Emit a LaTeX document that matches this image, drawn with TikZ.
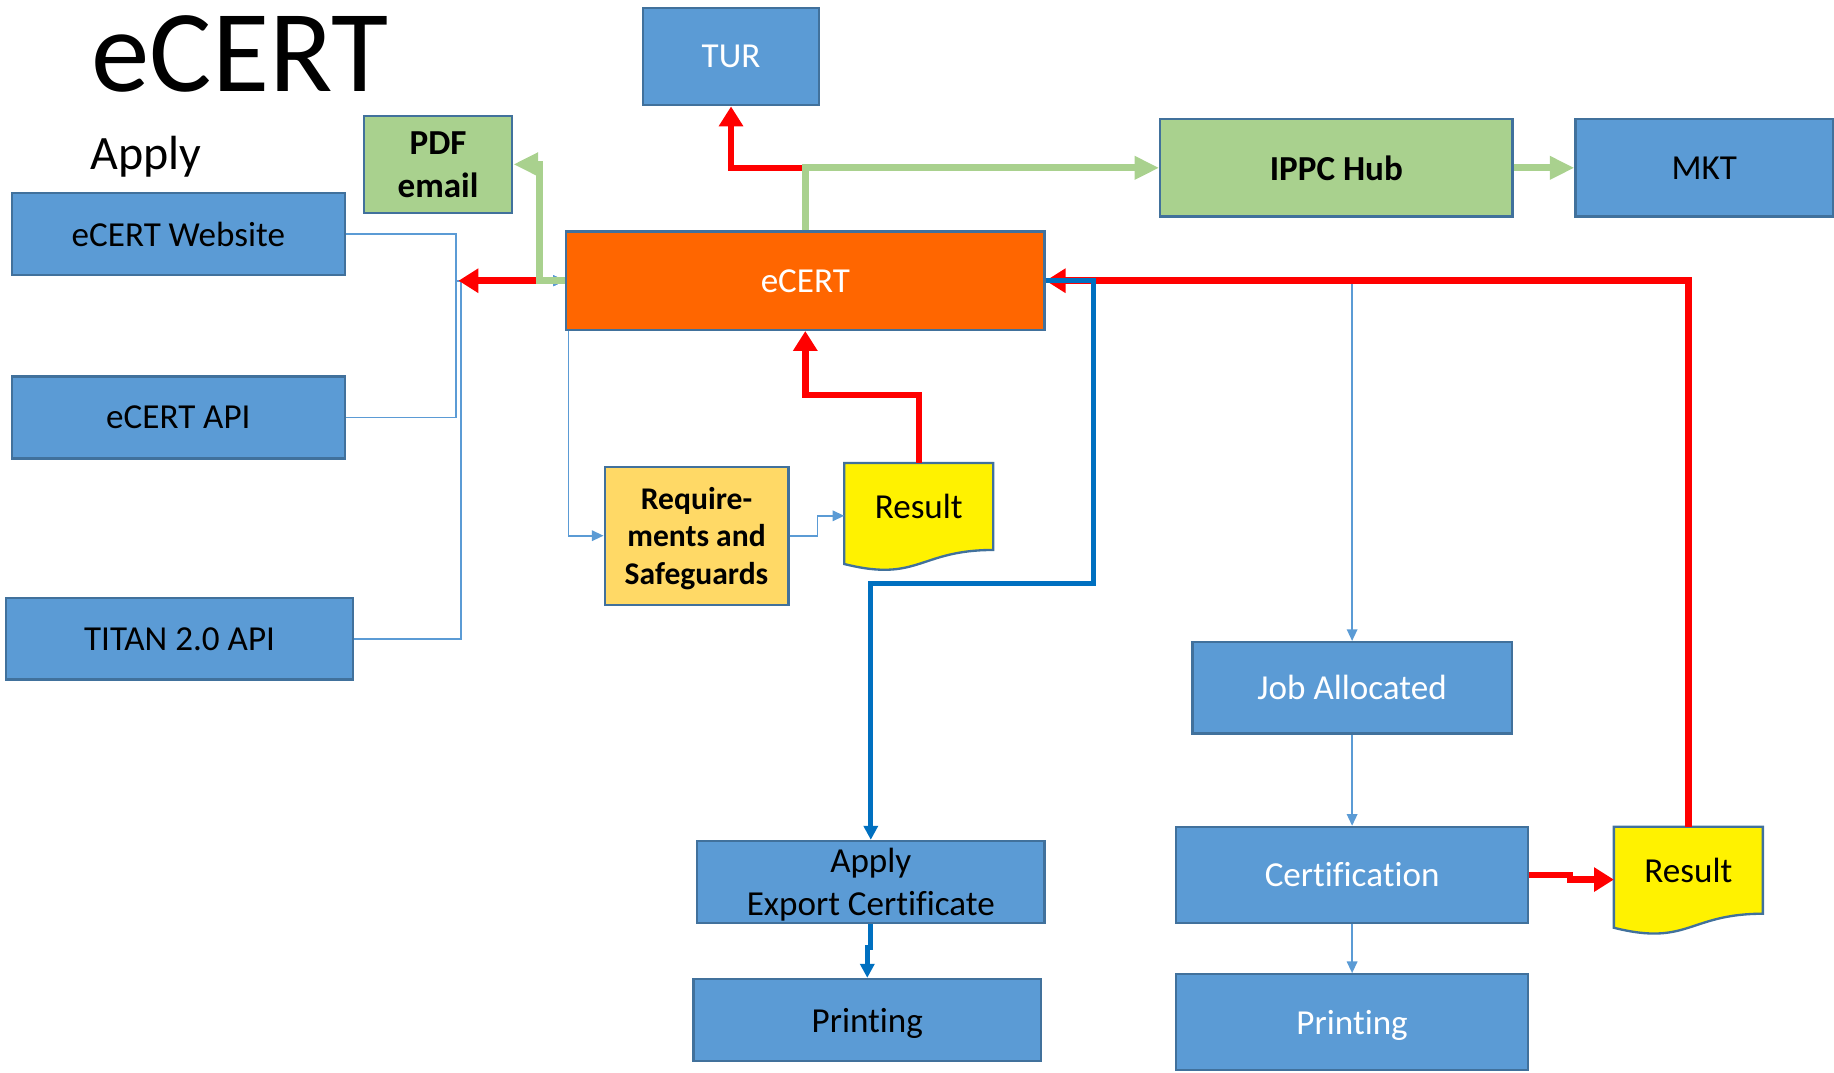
\documentclass[tikz,border=0pt]{standalone}
\usepackage{fontspec}
\setmainfont[Ligatures=NoCommon]{Carlito}
\usepackage{tikz}
\usetikzlibrary{arrows.meta,backgrounds}
\definecolor{boxblue}{HTML}{5B9BD5}
\definecolor{edgeblue}{HTML}{41719C}
\definecolor{hubgreen}{HTML}{A9D18E}
\definecolor{ecertorange}{HTML}{FF6600}
\definecolor{reqyellow}{HTML}{FFD966}
\definecolor{linkblue}{HTML}{0070C0}

\begin{document}
\begin{tikzpicture}[x=1pt,y=-1pt,
    box/.style={draw=edgeblue,line width=2pt,fill=boxblue,inner sep=0pt,align=center,text depth=0pt,
        font=\fontsize{30}{36.6}\selectfont},
    greenbox/.style={box,fill=hubgreen,font=\fontsize{30}{36.6}\selectfont\bfseries},
    docnode/.style={inner sep=0pt,minimum width=127pt,minimum height=74pt,
        font=\fontsize{30}{36.6}\selectfont},
    flow/.style={draw=boxblue,line width=1.5pt,-{Triangle[length=10pt,width=9pt]}},
    redflow/.style={draw=red,line width=5.5pt,-{Triangle[length=17pt,width=20pt]}},
    greenflow/.style={draw=hubgreen,line width=6pt,-{Triangle[length=21pt,width=19pt]}},
    blueflow/.style={draw=linkblue,line width=4pt,-{Triangle[length=12pt,width=12pt]}}]
    \useasboundingbox (0,0) rectangle (1568,917);
    \node[anchor=base west,inner sep=0pt,font=\fontsize{100}{120}\selectfont] (title) at (78,78) {eCERT};
    \node[anchor=base west,inner sep=0pt,font=\fontsize{41}{50}\selectfont] (apply_label) at (77,145) {Apply};
    \node[box,minimum width=285pt,minimum height=70pt] (web)   at (152.5,200) {eCERT Website};
    \node[box,minimum width=285pt,minimum height=70pt] (api)   at (152.5,357) {eCERT API};
    \node[box,minimum width=297pt,minimum height=70pt] (titan) at (153.5,546) {TITAN 2.0 API};
    \node[greenbox,minimum width=127pt,minimum height=83pt] (pdf) at (374.5,140.5) {PDF\\email};
    \node[box,text=white,minimum width=150pt,minimum height=83pt] (tur) at (625,48.5) {TUR};
    \node[box,fill=ecertorange,text=white,minimum width=409pt,minimum height=84pt] (ecert) at (688.5,240) {eCERT};
    \node[greenbox,minimum width=301pt,minimum height=83pt] (ippc) at (1142.5,143.5) {IPPC Hub};
    \node[box,minimum width=220pt,minimum height=83pt] (mkt) at (1457,143.5) {MKT};
    \node[box,fill=reqyellow,font=\fontsize{27}{32}\selectfont\bfseries,minimum width=157pt,minimum height=118pt]
        (req) at (595.5,458) {Require-\\ments and\\Safeguards};
    \node[docnode] (res_1) at (785.5,433) {Result};
    \node[box,text=white,minimum width=273pt,minimum height=78pt] (job)  at (1156,588) {Job Allocated};
    \node[box,text=white,minimum width=301pt,minimum height=82pt] (cert) at (1156,748) {Certification};
    \node[docnode] (res_2) at (1443.5,744) {Result};
    \node[box,minimum width=297pt,minimum height=70pt] (apply)   at (744.5,754) {Apply\\Export Certificate};
    \node[box,minimum width=297pt,minimum height=70pt] (print_1) at (741.5,872) {Printing};
    \node[box,text=white,minimum width=301pt,minimum height=82pt] (print_2) at (1156,874) {Printing};
    \begin{scope}[on background layer]
        \foreach \r in {res_1,res_2}
            \draw[edgeblue,line width=2pt,fill=yellow] (\r.north west) -- (\r.north east) -- (\r.south east)
                .. controls (\r.south) and ([yshift=-28pt]\r.south) .. ([yshift=-12pt]\r.south west) -- cycle;
    \end{scope}
    \coordinate (fork)  at ([xshift=-91pt]ecert.west);
    \coordinate (split) at (ecert.north |- ippc.west);
    \draw[flow] (web.east) -- ++(94,0) |- (ecert.west);
    \draw[flow] (api.east) -- ++(94,0) |- (ecert.west);
    \draw[flow] (titan.east) -- ++(91,0) |- (ecert.west);
    \draw[flow] ([xshift=3pt]ecert.south west) |- (req.west);
    \draw[flow] (req.east) -- ++(24,0) |- ([yshift=-8pt]res_1.west);
    \draw[flow] (job.north |- ecert.east) -- (job.north);
    \path (job.south) edge[flow] (cert.north)
          (cert.south) edge[flow] (print_2.north);
    \draw[redflow] (res_1.north) -- ++(0,-58) -| (ecert.south);
    \draw[redflow] (res_2.north) |- (ecert.east);
    \draw[redflow] (cert.east) -- ++(35,0) |- ([yshift=-8pt]res_2.west);
    \draw[redflow] (split) -| (tur.south);
    \draw[redflow] (ecert.west) -- (fork);
    \draw[greenflow] (ecert.north) |- (ippc.west);
    \draw[greenflow] (ecert.west) -- ++(-22,0) |- (pdf.east);
    \path (ippc.east) edge[greenflow] (mkt.west);
    \draw[blueflow] (ecert.east) -- ++(41,0) -- ++(0,259) -| (apply.north);
    \draw[blueflow] (apply.south) -- ++(0,20) -| (print_1.north);
\end{tikzpicture}
\end{document}
